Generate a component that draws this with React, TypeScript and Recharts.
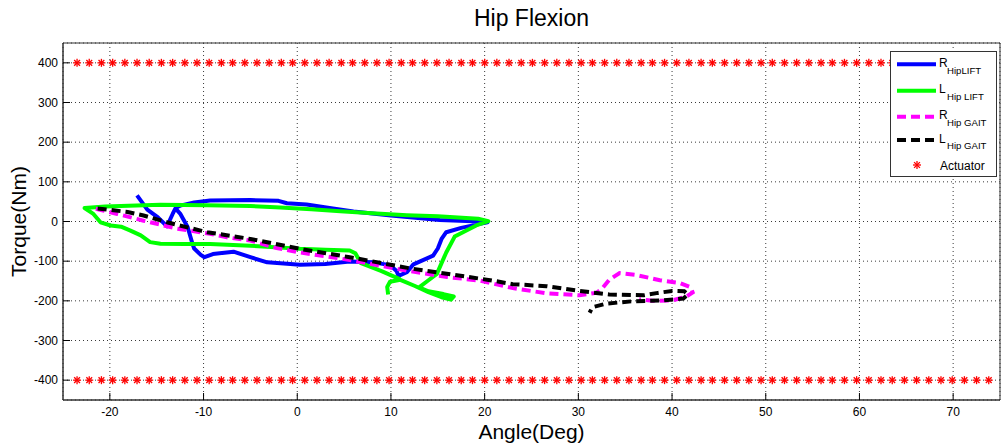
import React from 'react';
import { ComposedChart, Line, Scatter, XAxis, YAxis, CartesianGrid, Legend, ReferenceArea } from 'recharts';

const xTicks = [-20, -10, 0, 10, 20, 30, 40, 50, 60, 70];
const yTicks = [-400, -300, -200, -100, 0, 100, 200, 300, 400];

// R Hip LIFT (blue)
const rHipLiftAngle = [-17.1, -16.0, -14.9, -13.9, -13.3, -13.0, -12.5, -11.7, -11.2, -11.0, -10.3, -9.9, -9.0, -6.8, -5.0, -3.2, 0.3, 3.0, 5.6, 8.1, 9.9, 10.6, 10.8, 11.7, 12.4, 14.5, 15.0, 15.4, 15.9, 17.5, 19.5, 20.3, 19.5, 15.2, 10.0, 6.0, 3.8, 1.0, -1.1, -2.0, -5.0, -9.3, -11.0, -12.5, -13.0];
const rHipLiftTorque = [66, 30, 11, -12, 19, 33, 20, -14, -55, -68, -84, -90, -82, -76, -90, -103, -109, -107, -101, -103, -110, -125, -137, -128, -108, -86, -68, -44, -27, -16, -6, -2, 0, 4, 15, 25, 33, 43, 46, 52, 54, 53, 48, 40, 34];

// L Hip LIFT (green)
const lHipLiftAngle = [9.7, 9.6, 9.9, 11.0, 12.5, 14.0, 15.4, 16.4, 16.7, 15.6, 14.0, 13.0, 13.9, 14.9, 15.4, 15.9, 16.8, 19.1, 20.4, 19.3, 15.0, 11.7, 8.0, 4.6, 1.5, -1.8, -5.0, -9.6, -14.6, -18.0, -20.5, -22.7, -21.8, -21.0, -19.9, -18.8, -17.8, -16.7, -15.7, -14.6, -12.0, -9.3, -5.0, 0.3, 3.0, 5.6, 6.2, 6.8, 9.0, 11.0];
const lHipLiftTorque = [-184, -165, -152, -147, -162, -178, -191, -197, -189, -183, -176, -166, -150, -132, -105, -78, -38, -10, 1, 7, 13, 16, 21, 26, 31, 35, 39, 41, 42, 40, 38, 34, 20, -2, -10, -13, -23, -35, -52, -56, -57, -57, -61, -69, -71, -73, -80, -105, -125, -146];

// R Hip GAIT (magenta dashed)
const rHipGaitAngle = [-21.5, -20.6, -19.2, -16.4, -12.8, -9.3, -7.5, -5.0, -2.2, 0.3, 1.4, 5.6, 11.7, 16.0, 19.5, 23.0, 26.6, 30.1, 31.9, 32.5, 33.3, 34.4, 36.2, 38.7, 40.8, 42.0, 42.2, 41.5, 40.0, 37.9, 36.5];
const rHipGaitTorque = [32, 27, 19, 2, -18, -31, -40, -48, -67, -78, -82, -97, -124, -140, -149, -168, -181, -186, -180, -170, -147, -130, -135, -148, -155, -166, -179, -190, -199, -200, -196];

// L Hip GAIT (black dashed)
const lHipGaitAngle = [-21.3, -18.1, -16.4, -13.9, -10.3, -9.6, -5.0, 0.3, 5.6, 12.0, 20.6, 23.0, 26.6, 30.1, 33.3, 37.0, 38.5, 40.0, 41.3, 41.7, 41.2, 39.0, 35.8, 33.0, 31.5, 31.2];
const lHipGaitTorque = [33, 24, 15, -2, -23, -27, -44, -69, -90, -118, -148, -158, -163, -175, -184, -186, -180, -175, -176, -184, -194, -199, -201, -207, -216, -230];

// Actuator limits
const actuatorAngles = [-23.5, -22.2, -20.9, -19.7, -18.4, -17.1, -15.8, -14.5, -13.3, -12.0, -10.7, -9.4, -8.1, -6.9, -5.6, -4.3, -3.0, -1.7, -0.5, 0.8, 2.1, 3.4, 4.7, 5.9, 7.2, 8.5, 9.8, 11.1, 12.3, 13.6, 14.9, 16.2, 17.5, 18.7, 20.0, 21.3, 22.6, 23.9, 25.1, 26.4, 27.7, 29.0, 30.3, 31.5, 32.8, 34.1, 35.4, 36.7, 37.9, 39.2, 40.5, 41.8, 43.1, 44.3, 45.6, 46.9, 48.2, 49.5, 50.7, 52.0, 53.3, 54.6, 55.9, 57.1, 58.4, 59.7, 61.0, 62.3, 63.5, 64.8, 66.1, 67.4, 68.7, 69.9, 71.2, 72.5, 73.8];
const actuatorLevels = [400, -400];

const zip = (a: number[], t: number[]) => a.map((x, i) => ({ x, y: t[i] }));

const rHipLift = zip(rHipLiftAngle, rHipLiftTorque);
const lHipLift = zip(lHipLiftAngle, lHipLiftTorque);
const rHipGait = zip(rHipGaitAngle, rHipGaitTorque);
const lHipGait = zip(lHipGaitAngle, lHipGaitTorque);
const actuator = actuatorLevels.flatMap((lv) => actuatorAngles.map((x) => ({ x, y: lv })));

const FONT = '"Liberation Sans", Arial, Helvetica, sans-serif';
const AXIS = '#333333';

const Asterisk = (props: any) => {
  const { cx, cy } = props;
  if (cx == null || cy == null) return <g />;
  const r = 4;
  const d = 2.9;
  return (
    <g stroke="#ff0000" strokeWidth={1.3}>
      <line x1={cx - r} y1={cy} x2={cx + r} y2={cy} />
      <line x1={cx} y1={cy - r} x2={cx} y2={cy + r} />
      <line x1={cx - d} y1={cy - d} x2={cx + d} y2={cy + d} />
      <line x1={cx - d} y1={cy + d} x2={cx + d} y2={cy - d} />
    </g>
  );
};

const legendItems = [
  { main: 'R', sub: 'HipLIFT', color: '#0000ff', dash: undefined as string | undefined, cy: 13.3 },
  { main: 'L', sub: 'Hip LIFT', color: '#00ff00', dash: undefined, cy: 39.7 },
  { main: 'R', sub: 'Hip GAIT', color: '#ff00ff', dash: '9 5', cy: 65.7 },
  { main: 'L', sub: 'Hip GAIT', color: '#000000', dash: '9 5', cy: 89 },
];

const LegendBox = () => (
  <svg width={108} height={127} style={{ display: 'block', fontFamily: FONT }}>
    <rect x={0.5} y={0.5} width={106} height={125} fill="#ffffff" stroke={AXIS} strokeWidth={1} />
    {legendItems.map((it, i) => (
      <g key={i}>
        <line x1={7} y1={it.cy} x2={46} y2={it.cy} stroke={it.color} strokeWidth={4} strokeDasharray={it.dash} />
        <text x={49} y={it.cy + 2.6} fontSize={12} fill="#000">
          {it.main}
        </text>
        <text x={57} y={it.cy + 9.3} fontSize={9.6} fill="#000">
          {it.sub}
        </text>
      </g>
    ))}
    <Asterisk cx={27} cy={114} />
    <text x={50} y={118.5} fontSize={12} fill="#000">
      Actuator
    </text>
  </svg>
);

const noTick = () => <g />;
const hidden = () => <g />;

export default function App() {
  return (
    <div style={{ position: 'absolute', left: 0, top: 0, width: 1002, height: 446, background: '#ffffff' }}>
      <ComposedChart
        width={1002}
        height={446}
        margin={{ top: 43, right: 2, bottom: 0, left: 0 }}
        style={{ fontFamily: FONT }}
      >
        <CartesianGrid stroke="#3a3a3a" strokeDasharray="1 3" xAxisId="b" yAxisId="l" />
        <XAxis
          xAxisId="b"
          type="number"
          dataKey="x"
          domain={[-25, 75]}
          ticks={xTicks}
          allowDataOverflow
          height={46}
          stroke={AXIS}
          tickSize={-7}
          tickMargin={14}
          tick={{ fontSize: 12, fill: '#000' }}
          tickLine={{ stroke: '#000' }}
          label={{ value: 'Angle(Deg)', position: 'insideBottom', offset: 7, fontSize: 21, fill: '#000' }}
        />
        <XAxis
          xAxisId="t"
          orientation="top"
          type="number"
          dataKey="x"
          domain={[-25, 75]}
          ticks={xTicks}
          allowDataOverflow
          height={0}
          stroke={AXIS}
          tickSize={-7}
          tick={noTick}
          tickLine={{ stroke: '#000' }}
        />
        <YAxis
          yAxisId="l"
          type="number"
          dataKey="y"
          domain={[-450, 450]}
          ticks={yTicks}
          allowDataOverflow
          width={63}
          stroke={AXIS}
          tickSize={-7}
          tickMargin={12}
          tick={{ fontSize: 12, fill: '#000' }}
          tickLine={{ stroke: '#000' }}
          label={{ value: 'Torque(Nm)', angle: -90, position: 'insideLeft', offset: 19, fontSize: 21, fill: '#000', style: { textAnchor: 'middle' } }}
        />
        <YAxis
          yAxisId="r"
          orientation="right"
          type="number"
          dataKey="y"
          domain={[-450, 450]}
          ticks={yTicks}
          allowDataOverflow
          width={0}
          stroke={AXIS}
          tickSize={-7}
          tick={noTick}
          tickLine={{ stroke: '#000' }}
        />
        <ReferenceArea xAxisId="b" yAxisId="l" x1={-25} x2={75} y1={-450} y2={450} fill="none" stroke={AXIS} strokeWidth={1} ifOverflow="visible" />
        <Scatter xAxisId="t" yAxisId="r" data={actuator} dataKey="y" shape={hidden} isAnimationActive={false} legendType="none" />
        <Scatter xAxisId="b" yAxisId="l" data={actuator} dataKey="y" shape={Asterisk} isAnimationActive={false} />
        <Line xAxisId="b" yAxisId="l" data={rHipLift} dataKey="y" type="linear" stroke="#0000ff" strokeWidth={4} dot={false} activeDot={false} isAnimationActive={false} strokeLinejoin="round" />
        <Line xAxisId="b" yAxisId="l" data={lHipLift} dataKey="y" type="linear" stroke="#00ff00" strokeWidth={4} dot={false} activeDot={false} isAnimationActive={false} strokeLinejoin="round" />
        <Line xAxisId="b" yAxisId="l" data={rHipGait} dataKey="y" type="linear" stroke="#ff00ff" strokeWidth={4} strokeDasharray="9 5" dot={false} activeDot={false} isAnimationActive={false} />
        <Line xAxisId="b" yAxisId="l" data={lHipGait} dataKey="y" type="linear" stroke="#000000" strokeWidth={4} strokeDasharray="9 5" dot={false} activeDot={false} isAnimationActive={false} />
        <Legend
          layout="horizontal"
          verticalAlign="middle"
          align="center"
          content={() => <LegendBox />}
          wrapperStyle={{ position: 'absolute', left: 890, top: 51, width: 108, height: 127 }}
        />
      </ComposedChart>
      <div
        style={{
          position: 'absolute',
          left: 0,
          top: 3,
          width: 1063,
          textAlign: 'center',
          fontFamily: FONT,
          fontSize: 23,
          lineHeight: '30px',
          color: '#000',
          pointerEvents: 'none',
        }}
      >
        Hip Flexion
      </div>
    </div>
  );
}
